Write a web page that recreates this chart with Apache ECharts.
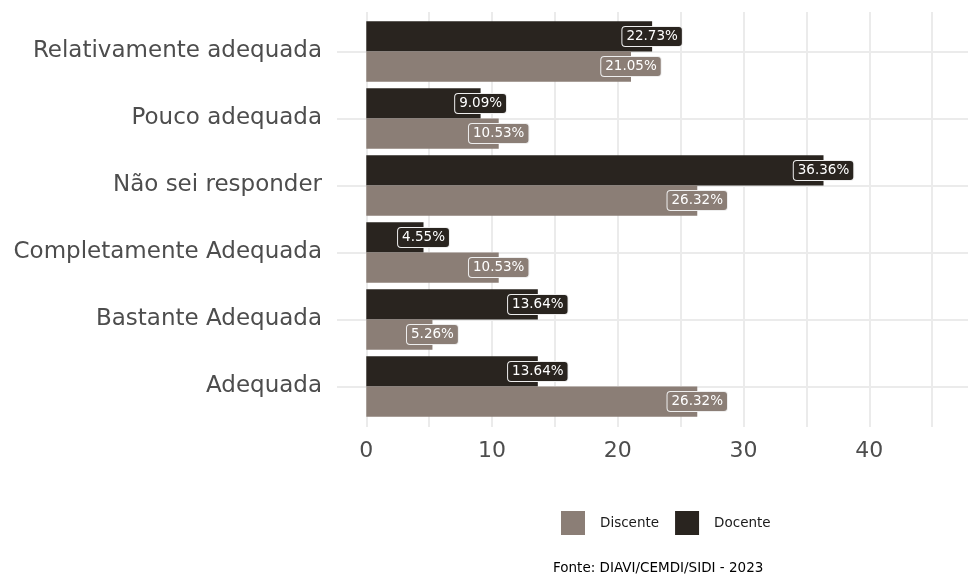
<!DOCTYPE html>
<html>
<head>
<meta charset="utf-8">
<script src="https://cdn.jsdelivr.net/npm/echarts@6/dist/echarts.min.js"></script>
<style>html,body{margin:0;padding:0;background:#fff}#c{width:968px;height:577px}</style>
</head>
<body>
<div id="c"></div>
<script>
const categories = ['Adequada', 'Bastante Adequada', 'Completamente Adequada', 'Não sei responder', 'Pouco adequada', 'Relativamente adequada'];
const discente = [26.32, 5.26, 10.53, 26.32, 10.53, 21.05];
const docente = [13.64, 13.64, 4.55, 36.36, 9.09, 22.73];
const xTickLabels = [0, 10, 20, 30, 40];
const xGridValues = [0, 5, 10, 15, 20, 25, 30, 35, 40, 45];
const caption = 'Fonte: DIAVI/CEMDI/SIDI - 2023';

const FONT = 'DejaVu Sans';
const COL_DISC = '#8b7e76';
const COL_DOC = '#29241f';
const XMIN = -2.33, XMAX = 47.85;

function mkLabel(color) {
  return {
    show: true,
    position: ['100%', '50%'],
    align: 'center',
    verticalAlign: 'middle',
    formatter: p => p.value.toFixed(2) + '%',
    color: '#ffffff',
    fontFamily: FONT,
    fontSize: 13.5,
    backgroundColor: color,
    borderColor: '#eeeeee',
    borderWidth: 1,
    borderRadius: 3,
    padding: [3, 4, 2, 4]
  };
}

const chart = echarts.init(document.getElementById('c'), null, {renderer: 'canvas'});
chart.setOption({
  animation: false,
  backgroundColor: '#ffffff',
  textStyle: {fontFamily: FONT},
  title: {
    text: caption,
    left: 553, top: 561,
    padding: 0,
    textStyle: {fontSize: 13.5, fontWeight: 'normal', color: '#000000', fontFamily: FONT}
  },
  legend: {
    data: ['Discente', 'Docente'],
    left: 561, top: 511,
    padding: 0,
    itemWidth: 24, itemHeight: 24, itemGap: 16,
    icon: 'rect',
    textStyle: {fontSize: 13.5, color: '#1a1a1a', fontFamily: FONT, padding: [0, 0, 0, 10]}
  },
  grid: [
    {left: 337, right: 0, top: 12, height: 415},
    {left: 337, right: 0, top: 18, height: 402}
  ],
  xAxis: [
    {
      gridIndex: 0, type: 'value', min: XMIN, max: XMAX,
      axisLine: {show: false},
      axisTick: {show: false, customValues: xGridValues},
      axisLabel: {customValues: xTickLabels, fontSize: 22, color: '#4d4d4d', margin: 13, fontFamily: FONT},
      splitLine: {show: true, lineStyle: {color: '#ebebeb', width: 2}}
    },
    {
      gridIndex: 1, type: 'value', min: XMIN, max: XMAX, show: false,
      splitLine: {show: false}
    }
  ],
  yAxis: [
    {gridIndex: 0, type: 'value', min: 0, max: 1, show: false, splitLine: {show: false}},
    {
      gridIndex: 1, type: 'category', data: categories,
      axisLine: {show: false},
      axisTick: {show: false, alignWithLabel: true},
      axisLabel: {fontSize: 23, color: '#4d4d4d', margin: 15, fontFamily: FONT},
      splitLine: {show: true, alignWithLabel: true, lineStyle: {color: '#ebebeb', width: 2}}
    }
  ],
  series: [
    {
      name: 'Docente', type: 'bar', xAxisIndex: 1, yAxisIndex: 1,
      data: docente, itemStyle: {color: COL_DOC},
      barGap: '0%', barCategoryGap: '10%',
      label: mkLabel(COL_DOC)
    },
    {
      name: 'Discente', type: 'bar', xAxisIndex: 1, yAxisIndex: 1,
      data: discente, itemStyle: {color: COL_DISC},
      barGap: '0%', barCategoryGap: '10%',
      label: mkLabel(COL_DISC)
    }
  ]
});
</script>
</body>
</html>
